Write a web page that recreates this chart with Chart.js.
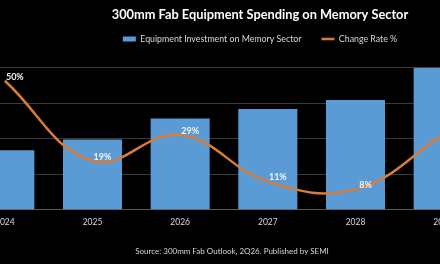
<!DOCTYPE html>
<html>
<head>
<meta charset="utf-8">
<script src="https://cdn.jsdelivr.net/npm/chart.js@4/dist/chart.umd.min.js"></script>
<style>
  html, body { margin: 0; padding: 0; background: #000; overflow: hidden; }
  #wrap { position: relative; width: 440px; height: 264px; overflow: hidden; background: #000; }
  #myChart { position: absolute; left: -60px; top: 0; }
  #source { position: absolute; left: 0; width: 464px; top: 246px; text-align: center;
            font: 8px Lato, sans-serif; color: #d9d9d9; }
</style>
</head>
<body>
<div id="wrap">
  <canvas id="myChart" width="640" height="264"></canvas>
  <div id="source">Source: 300mm Fab Outlook, 2Q26. Published by SEMI</div>
</div>
<script>
var years = ['2024', '2025', '2026', '2027', '2028', '2029'];
var investment = [33.6, 39.6, 51.4, 56.8, 61.8, 80];
var changeRate = [50, 19, 29, 11, 8, 29];
var rateLabels = ['50%', '19%', '29%', '11%', '8%', '29%'];

// push the plot down a bit below the legend
var legendGap = {
  id: 'legendGap',
  beforeInit: function (chart) {
    var fit = chart.legend.fit;
    chart.legend.fit = function () {
      fit.bind(chart.legend)();
      this.height += 14.5;
    };
  }
};

// percent labels next to the line points
var rateText = {
  id: 'rateText',
  afterDatasetsDraw: function (chart) {
    var ctx = chart.ctx;
    var meta = chart.getDatasetMeta(1);
    ctx.save();
    ctx.font = 'bold 9px Lato, sans-serif';
    ctx.fillStyle = '#f2f2f2';
    ctx.textAlign = 'center';
    ctx.textBaseline = 'middle';
    meta.data.forEach(function (pt, i) {
      ctx.fillText(rateLabels[i], pt.x + 10, pt.y - 4);
    });
    ctx.restore();
  }
};

var ctx = document.getElementById('myChart').getContext('2d');
var chart = new Chart(ctx, {
  type: 'bar',
  data: {
    labels: years,
    datasets: [
      {
        label: 'Equipment Investment on Memory Sector',
        data: investment,
        backgroundColor: '#5B9BD5',
        pointStyle: 'rect',
        barPercentage: 0.673,
        categoryPercentage: 1,
        order: 1,
        yAxisID: 'y',
      },
      {
        type: 'line',
        label: 'Change Rate %',
        data: changeRate,
        borderColor: '#D97B3A',
        backgroundColor: '#D97B3A',
        borderWidth: 2.5,
        tension: 0.42,
        pointRadius: 0,
        pointStyle: 'line',
        order: 0,
        yAxisID: 'y1',
      },
    ],
  },
  options: {
    responsive: false,
    animation: false,
    layout: { padding: { left: 0, right: 0, top: 0, bottom: 30 } },
    plugins: {
      title: {
        display: true,
        text: '300mm Fab Equipment Spending on Memory Sector',
        color: '#ffffff',
        font: { family: 'Lato', size: 12.8, weight: 'bold', lineHeight: 1 },
        padding: { top: 8.6, bottom: -6.9 },
      },
      legend: {
        labels: {
          color: '#d9d9d9',
          font: { family: 'Lato', size: 8.8 },
          usePointStyle: true,
          pointStyleWidth: 13,
          boxHeight: 5,
          padding: 20,
          sort: function (a, b) { return a.datasetIndex - b.datasetIndex; },
        },
      },
      tooltip: { enabled: false },
    },
    scales: {
      x: {
        grid: { display: false, drawTicks: false },
        border: { display: false },
        ticks: { color: '#d9d9d9', font: { family: 'Lato', size: 8.5 }, padding: 7 },
      },
      y: {
        min: 0,
        max: 80,
        ticks: { display: false, stepSize: 20 },
        border: { display: false },
        grid: {
          drawTicks: false,
          color: function (c) { return c.tick && c.tick.value === 0 ? '#5a5a5a' : '#3a3a3a'; },
        },
        afterFit: function (scale) { scale.width = 21; },
      },
      y1: {
        position: 'right',
        min: 0,
        max: 55,
        ticks: { display: false },
        border: { display: false },
        grid: { display: false, drawTicks: false },
        afterFit: function (scale) { scale.width = 93; },
      },
    },
  },
  plugins: [legendGap, rateText],
});
</script>
</body>
</html>
